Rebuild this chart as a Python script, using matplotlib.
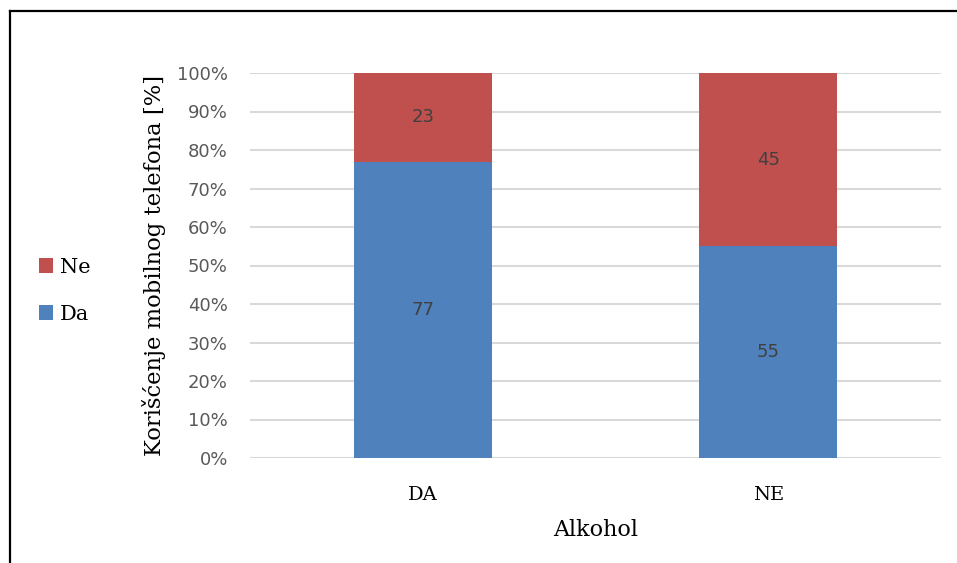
from matplotlib import pyplot as plt
from matplotlib.lines import Line2D
from matplotlib.ticker import PercentFormatter
import numpy as np

# Data
categories = ['DA', 'NE']
da_values = [77, 55]
ne_values = [23, 45]

blue = '#4f81bd'
red = '#c0504d'
serif = 'DejaVu Serif'

fig = plt.figure(figsize=(9.57, 5.63), dpi=100)
ax = fig.add_axes([250/957, 1 - 458/563, (941 - 250)/957, (458 - 73)/563])

x = np.arange(len(categories))
b1 = ax.bar(x, da_values, width=0.4, color=blue, label='Da', zorder=3)
b2 = ax.bar(x, ne_values, width=0.4, bottom=da_values, color=red, label='Ne', zorder=3)

for bars, vals in ((b1, da_values), (b2, ne_values)):
    for rect, v in zip(bars, vals):
        ax.text(rect.get_x() + rect.get_width() / 2, rect.get_y() + rect.get_height() / 2,
                str(v), ha='center', va='center', fontsize=13, color='#404040',
                family='DejaVu Sans', zorder=4)

ax.set_xlim(-0.5, 1.5)
ax.set_ylim(0, 100)
ax.set_yticks(np.arange(0, 101, 10))
ax.yaxis.set_major_formatter(PercentFormatter(decimals=0))
ax.grid(axis='y', color='#d9d9d9', linewidth=1.5, zorder=0)
for s in ax.spines.values():
    s.set_visible(False)
ax.tick_params(axis='both', length=0)
ax.tick_params(axis='y', labelsize=13, labelcolor='#595959', pad=16)
ax.set_xticks(x)
ax.set_xticklabels(categories, family=serif, fontsize=14, color='black')
ax.tick_params(axis='x', pad=20)

ax.set_xlabel('Alkohol', family=serif, fontsize=16, labelpad=11)
ax.set_ylabel('Korišćenje mobilnog telefona [%]', family=serif, fontsize=16.3, labelpad=8)

handles = [b2, b1]
fig.legend(handles, ['Ne', 'Da'], loc='center left', bbox_to_anchor=(20/957, 1 - 291/563),
           frameon=False, prop={'family': serif, 'size': 15},
           handlelength=0.7, handleheight=0.7, handletextpad=0.3, labelspacing=1.35)

# outer frame
fig.add_artist(Line2D([10/957, 10/957], [0, 1 - 11/563], transform=fig.transFigure, color='black', lw=1.6))
fig.add_artist(Line2D([10/957, 1], [1 - 11/563, 1 - 11/563], transform=fig.transFigure, color='black', lw=1.6))

plt.savefig('out.png', dpi=100)
